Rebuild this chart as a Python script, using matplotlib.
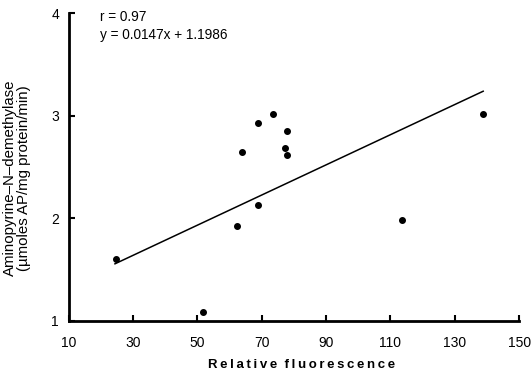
import numpy as np
import matplotlib.pyplot as plt

plt.rcParams['font.family'] = ['Liberation Sans', 'DejaVu Sans']

# relative fluorescence vs aminopyrine-N-demethylase activity
fluor = [24.7, 51.7, 62.3, 68.8, 63.9, 68.8, 73.5, 77.9, 77.2, 77.9, 138.8, 113.6]
activity = [1.60, 1.09, 1.925, 2.13, 2.645, 2.93, 3.02, 2.85, 2.69, 2.62, 3.02, 1.98]

slope = 0.0147
intercept = 1.1986
r_value = 0.97

x_ticks = [10, 30, 50, 70, 90, 110, 130, 150]
y_ticks = [1, 2, 3, 4]

fig = plt.figure(figsize=(5.32, 3.75), dpi=100, facecolor='w')
ax = fig.add_axes([0.129, 0.144, 0.847, 0.821])

ax.scatter(fluor, activity, s=16, color='black', zorder=3)

xfit = np.array([min(fluor) - 0.3, max(fluor)])
ax.plot(xfit, slope * xfit + intercept, color='black', lw=1.1)

ax.set_xlim(10, 150)
ax.set_ylim(1, 4)
ax.set_xticks(x_ticks)
ax.set_yticks(y_ticks)
ax.tick_params(direction='in', length=4, width=1.5, labelsize=10)
ax.tick_params(axis='x', pad=11)
ax.tick_params(axis='y', pad=7)

for spine in ('top', 'right'):
    ax.spines[spine].set_visible(False)
for spine in ('left', 'bottom'):
    ax.spines[spine].set_linewidth(2)

ax.text(0.069, 0.987, 'r = %.2f' % r_value, transform=ax.transAxes,
        fontsize=9.8, va='center')
ax.text(0.069, 0.929, 'y = %.4fx + %.4f' % (slope, intercept),
        transform=ax.transAxes, fontsize=9.8, va='center')

spaced = '  '.join('\u2009'.join(w) for w in 'Relative fluorescence'.split())
ax.set_xlabel(spaced, fontsize=9.5, fontweight='bold')
ax.xaxis.set_label_coords(0.517, -0.123)
ax.set_ylabel('Aminopyrine\u2013N\u2013demethylase\n(\u00b5moles AP/mg protein/min)',
              fontsize=10.8, linespacing=1.0)
ax.yaxis.set_label_coords(-0.084, 0.464)

fig.savefig('out.png', dpi=100)
